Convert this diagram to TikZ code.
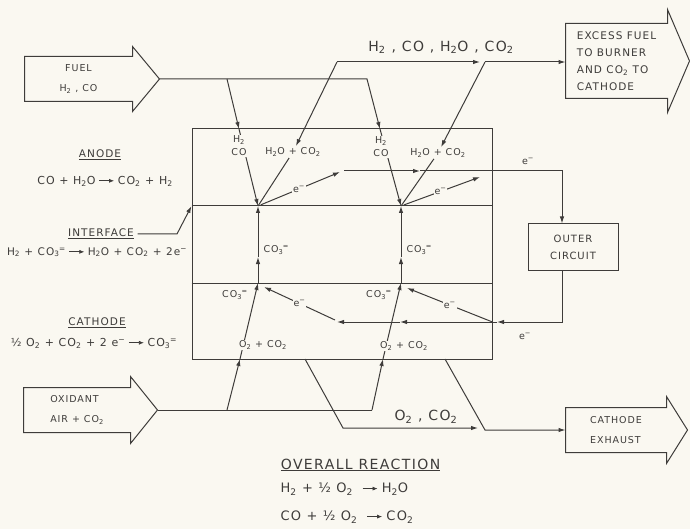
\documentclass[tikz,border=0pt]{standalone}
\usepackage{fontspec}
\setmainfont{DejaVu Sans}[LetterSpace=10]
\usetikzlibrary{arrows.meta}
\definecolor{ink}{RGB}{62,60,58}
\definecolor{paper}{RGB}{250,248,241}
\newcommand\yields{\hspace{0.3em}\tikz[baseline=-0.55ex]\draw[-{Latex[length=5pt,width=4pt]},line width=0.7pt] (0pt,0pt) -- (15pt,0pt);\hspace{0.3em}}
\newcommand\cothree{CO\textsubscript{3}\kern-0.3pt\textsuperscript{=}}
\newcommand\elec{e\textsuperscript{−}}
% outline of a block arrow round a body node: node, head extension, head length
\newcommand\blockarrow[3]{%
  \path ([xshift=#3]#1.east) coordinate (#1tip);
  \draw (#1.south east) -- (#1.south west) -- (#1.north west) -- (#1.north east)
    -- ([yshift=#2]#1.north east) -- (#1tip) -- ([yshift=-#2]#1.south east) -- cycle;}

\begin{document}
\begin{tikzpicture}[x=1pt, y=-1pt, >={Latex[length=7pt,width=4.5pt]}, line width=1pt, color=ink,
  body/.style={align=left, inner sep=0pt, font=\fontsize{9.5}{20}\selectfont},
  tag/.style={fill=paper, inner sep=1pt, align=center, font=\fontsize{9.5}{13}\selectfont},
  heading/.style={font=\fontsize{10.5}{12}\selectfont},
  eqn/.style={font=\fontsize{11}{13}\selectfont},
  stream/.style={font=\fontsize{14}{16}\selectfont},
  overall/.style={anchor=west, font=\fontsize{13}{15}\selectfont}]
  \useasboundingbox (0,0) rectangle (690,529);
  \fill[paper] (0,0) rectangle (690,529);

  % block arrows
  \node[body, align=center, minimum width=107pt, minimum height=44pt] (fuel) at (78.5,79) {FUEL\\H\textsubscript{2} , CO};
  \node[body, minimum width=106pt, minimum height=44pt] (oxid) at (77,410) {OXIDANT\\AIR + CO\textsubscript{2}};
  \node[body, font=\fontsize{10.5}{17}\selectfont, minimum width=101pt, minimum height=74pt] (excess) at (616.5,61)
    {EXCESS FUEL\\TO BURNER\\AND CO\textsubscript{2} TO\\CATHODE};
  \node[body, minimum width=100pt, minimum height=44pt] (cexh) at (616,430) {CATHODE\\EXHAUST};
  \blockarrow{fuel}{10pt}{27pt}
  \blockarrow{oxid}{11pt}{27pt}
  \blockarrow{excess}{14pt}{22pt}
  \blockarrow{cexh}{11pt}{21pt}

  % cell with anode, interface and cathode layers
  \node[draw, minimum width=300pt, minimum height=230pt] (cell) at (342,244) {};
  \node[draw, minimum width=90pt, minimum height=46pt, align=center, font=\fontsize{10}{17}\selectfont] (outer) at (573,247) {OUTER\\CIRCUIT};

  \coordinate (f1) at (227,79);  \coordinate (f2) at (367,79);
  \coordinate (in1) at (239,129); \coordinate (in2) at (380,129);
  \coordinate (r1) at (258,206); \coordinate (r2) at (401,206);
  \coordinate (m1) at (258,257); \coordinate (m2) at (401,257);
  \coordinate (c1) at (258,283); \coordinate (c2) at (401,283);
  \coordinate (o1) at (227,410); \coordinate (o2) at (372,410);
  \coordinate (b1) at (240,359); \coordinate (b2) at (383,359);
  \coordinate (j1) at (337,62);  \coordinate (j1e) at (480,62); \coordinate (j2) at (485,62);
  \coordinate (ea1) at (340,172); \coordinate (ea2) at (480,177);
  \coordinate (ha) at (344,171); \coordinate (hb) at (420,171); \coordinate (hc) at (562,171);
  \coordinate (ka) at (562,322); \coordinate (kb) at (497,322);
  \coordinate (kc) at (400,322); \coordinate (kd) at (337,322);
  \coordinate (ke1) at (335,320); \coordinate (kt1) at (264,287);
  \coordinate (kt2) at (407,288);
  \coordinate (x1) at (305,359); \coordinate (x1k) at (343,428); \coordinate (x1e) at (478,428);
  \coordinate (x2) at (445,359); \coordinate (x2k) at (485,430);
  \coordinate (ik) at (177,234);

  \draw (cell.west |- r1) -- (cell.east |- r1);
  \draw (cell.west |- c1) -- (cell.east |- c1);

  \node[tag] (w1) at (293,152) {H\textsubscript{2}O + CO\textsubscript{2}};
  \node[tag] (w2) at (438,153) {H\textsubscript{2}O + CO\textsubscript{2}};

  % fuel side
  \draw[->] (fueltip) -- (f2) -- (in2);
  \draw[->] (in2) -- (r2);
  \draw[->] (f1) -- (in1);
  \draw[->] (in1) -- (r1);
  \draw (r1) -- (w1);
  \draw (r2) -- (w2);
  \draw[->] (j1) -- (w1);
  \draw[->] (j2) -- (w2);
  \draw[->] (j1) -- (j1e);
  \draw[->] (j2) -- (excess.west |- j2);
  \node[stream] at (441,47) {H\textsubscript{2} , CO , H\textsubscript{2}O , CO\textsubscript{2}};
  \node[tag] (h1) at (239,146) {H\textsubscript{2}\\CO};
  \node[tag] (h2) at (381,147) {H\textsubscript{2}\\CO};

  % electrons to and from the outer circuit
  \draw[->, shorten <=3pt] (r1) -- node[tag] {\elec} (ea1);
  \draw[->, shorten <=3pt] (r2) -- node[tag] {\elec} (ea2);
  \draw[->] (ha) -- (hb);
  \draw[->] (hb) -- (hc) -- (hc |- outer.north);
  \node[tag] at (528,161) {\elec};
  \draw[->] (hc |- outer.south) -- (ka) -- (kb);
  \draw[->] (kb) -- (kc);
  \draw[->] (kc) -- (kd);
  \node[tag] at (525,336) {\elec};
  \draw[->] (ke1) -- node[tag] {\elec} (kt1);
  \draw[->] (cell.east |- ka) -- node[tag] {\elec} (kt2);

  % carbonate through the electrolyte
  \draw[->] (c1) -- (m1);
  \draw[->] (m1) -- (r1);
  \draw[->] (c2) -- (m2);
  \draw[->] (m2) -- (r2);
  \node[tag, anchor=west] at (262,250) {\cothree};
  \node[tag, anchor=west] at (405,250) {\cothree};
  \node[tag] at (235,295) {\cothree};
  \node[tag] at (379,295) {\cothree};

  % oxidant side
  \draw (oxidtip) -- (o2);
  \draw[->] (o1) -- (b1);
  \draw[->] (b1) -- (c1);
  \draw[->] (o2) -- (b2);
  \draw[->] (b2) -- (c2);
  \node[tag] at (263,345) {O\textsubscript{2} + CO\textsubscript{2}};
  \node[tag] at (404,346) {O\textsubscript{2} + CO\textsubscript{2}};
  \draw[->] (x1) -- (x1k) -- (x1e);
  \draw[->] (x2) -- (x2k) -- (cexh);
  \node[stream, anchor=south] at (426,427) {O\textsubscript{2} , CO\textsubscript{2}};

  % electrode reactions
  \node[heading] at (100,155) {\underline{ANODE}};
  \node[eqn] at (105,181) {CO + H\textsubscript{2}O\yields CO\textsubscript{2} + H\textsubscript{2}};
  \node[heading] (iface) at (101,234) {\underline{INTERFACE}};
  \draw[->] (iface.east) -- (ik) -- (cell.west |- r1);
  \node[eqn, font=\fontsize{10.5}{13}\selectfont] at (97,252) {H\textsubscript{2} + \cothree\yields H\textsubscript{2}O + CO\textsubscript{2} + 2\elec};
  \node[heading] at (97,323) {\underline{CATHODE}};
  \node[eqn] at (94,343) {½ O\textsubscript{2} + CO\textsubscript{2} + 2 \elec\yields \cothree};

  % overall reaction
  \node[overall, font=\fontsize{14}{16}\selectfont] at (277,465) {\underline{OVERALL REACTION}};
  \node[overall] at (277,489) {H\textsubscript{2} + ½ O\textsubscript{2} \yields H\textsubscript{2}O};
  \node[overall] at (277,517) {CO + ½ O\textsubscript{2} \yields CO\textsubscript{2}};
\end{tikzpicture}
\end{document}
